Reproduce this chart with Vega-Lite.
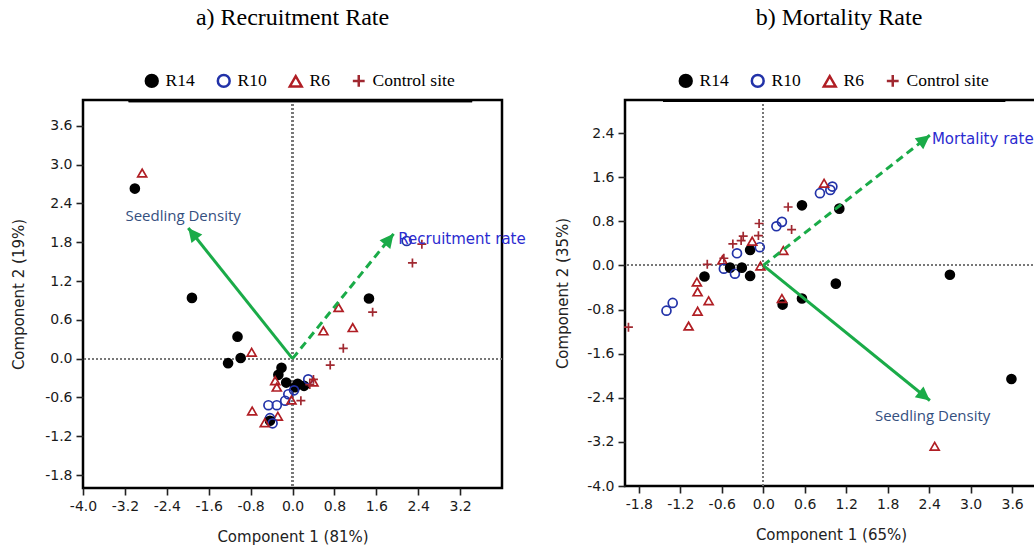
{
  "$schema": "https://vega.github.io/schema/vega-lite/v6.json",
  "padding": {"left": 10, "top": 4, "right": 0, "bottom": 0},
  "background": "white",
  "bounds": "flush",
  "spacing": 123,
  "config": {
    "view": {"stroke": "black", "strokeWidth": 2.5},
    "axis": {
      "grid": false, "domain": false, "labelOverlap": false, "labelFlush": false,
      "labelExpr": "replace(datum.label, '\u2212', '-')",
      "labelFont": "DejaVu Sans", "labelFontSize": 14, "labelColor": "#1a1a1a",
      "tickColor": "#222", "tickSize": 7, "tickWidth": 1.6, "labelPadding": 4,
      "titleFont": "DejaVu Sans", "titleFontSize": 15, "titleFontWeight": "normal", "titleColor": "#222"
    },
    "legend": {
      "labelFont": "Liberation Serif", "labelFontSize": 17.5, "labelColor": "black",
      "symbolSize": 140, "symbolStrokeWidth": 2.5, "columnPadding": 17, "labelOffset": 5
    },
    "title": {"font": "Liberation Serif", "fontSize": 24, "fontWeight": "normal", "color": "black", "anchor": "middle"}
  },
  "datasets": {
    "recruit": [
      {"site": "R6", "pc1": -2.87, "pc2": 2.87},
      {"site": "R14", "pc1": -3.01, "pc2": 2.63},
      {"site": "R14", "pc1": -1.92, "pc2": 0.94},
      {"site": "R14", "pc1": 1.46, "pc2": 0.93},
      {"site": "Control site", "pc1": 2.29, "pc2": 1.48},
      {"site": "R10", "pc1": 2.18, "pc2": 1.82},
      {"site": "Control site", "pc1": 2.47, "pc2": 1.77},
      {"site": "Control site", "pc1": 1.53, "pc2": 0.72},
      {"site": "R6", "pc1": 1.15, "pc2": 0.48},
      {"site": "R6", "pc1": 0.59, "pc2": 0.43},
      {"site": "R6", "pc1": 0.88, "pc2": 0.79},
      {"site": "Control site", "pc1": 0.97, "pc2": 0.16},
      {"site": "R14", "pc1": -1.05, "pc2": 0.34},
      {"site": "R6", "pc1": -0.78, "pc2": 0.10},
      {"site": "R14", "pc1": -0.99, "pc2": 0.01},
      {"site": "R14", "pc1": -1.23, "pc2": -0.07},
      {"site": "Control site", "pc1": 0.72, "pc2": -0.10},
      {"site": "R14", "pc1": -0.21, "pc2": -0.14},
      {"site": "R14", "pc1": -0.27, "pc2": -0.25},
      {"site": "R6", "pc1": -0.33, "pc2": -0.34},
      {"site": "R14", "pc1": -0.12, "pc2": -0.37},
      {"site": "R14", "pc1": 0.10, "pc2": -0.39},
      {"site": "R14", "pc1": 0.22, "pc2": -0.42},
      {"site": "R14", "pc1": 0.05, "pc2": -0.44},
      {"site": "R10", "pc1": 0.30, "pc2": -0.32},
      {"site": "Control site", "pc1": 0.40, "pc2": -0.32},
      {"site": "R6", "pc1": 0.40, "pc2": -0.36},
      {"site": "Control site", "pc1": 0.33, "pc2": -0.40},
      {"site": "R6", "pc1": -0.30, "pc2": -0.44},
      {"site": "R10", "pc1": 0.03, "pc2": -0.49},
      {"site": "R10", "pc1": -0.08, "pc2": -0.55},
      {"site": "R10", "pc1": -0.14, "pc2": -0.65},
      {"site": "R6", "pc1": -0.02, "pc2": -0.64},
      {"site": "Control site", "pc1": 0.16, "pc2": -0.65},
      {"site": "R10", "pc1": -0.30, "pc2": -0.72},
      {"site": "R10", "pc1": -0.46, "pc2": -0.72},
      {"site": "R6", "pc1": -0.77, "pc2": -0.81},
      {"site": "R6", "pc1": -0.28, "pc2": -0.89},
      {"site": "R10", "pc1": -0.43, "pc2": -0.92},
      {"site": "R14", "pc1": -0.43, "pc2": -0.96},
      {"site": "R10", "pc1": -0.38, "pc2": -1.00},
      {"site": "R6", "pc1": -0.53, "pc2": -0.99}
    ],
    "mortality": [
      {"site": "Control site", "pc1": -1.95, "pc2": -1.12},
      {"site": "R10", "pc1": -1.40, "pc2": -0.82},
      {"site": "R10", "pc1": -1.31, "pc2": -0.68},
      {"site": "R6", "pc1": -1.08, "pc2": -1.10},
      {"site": "R6", "pc1": -0.95, "pc2": -0.83},
      {"site": "R6", "pc1": -0.79, "pc2": -0.64},
      {"site": "R6", "pc1": -0.95, "pc2": -0.48},
      {"site": "R6", "pc1": -0.96, "pc2": -0.30},
      {"site": "R14", "pc1": -0.85, "pc2": -0.20},
      {"site": "Control site", "pc1": -0.81, "pc2": 0.02},
      {"site": "R6", "pc1": -0.59, "pc2": 0.10},
      {"site": "Control site", "pc1": -0.57, "pc2": 0.13},
      {"site": "R10", "pc1": -0.57, "pc2": -0.06},
      {"site": "R14", "pc1": -0.48, "pc2": -0.04},
      {"site": "R10", "pc1": -0.41, "pc2": -0.15},
      {"site": "R14", "pc1": -0.31, "pc2": -0.04},
      {"site": "R14", "pc1": -0.19, "pc2": -0.19},
      {"site": "R10", "pc1": -0.38, "pc2": 0.22},
      {"site": "R14", "pc1": -0.19, "pc2": 0.28},
      {"site": "R10", "pc1": -0.05, "pc2": 0.33},
      {"site": "R6", "pc1": -0.04, "pc2": -0.01},
      {"site": "Control site", "pc1": -0.44, "pc2": 0.39},
      {"site": "Control site", "pc1": -0.32, "pc2": 0.45},
      {"site": "Control site", "pc1": -0.29, "pc2": 0.53},
      {"site": "R6", "pc1": -0.16, "pc2": 0.44},
      {"site": "Control site", "pc1": -0.07, "pc2": 0.54},
      {"site": "Control site", "pc1": -0.06, "pc2": 0.76},
      {"site": "R10", "pc1": 0.19, "pc2": 0.71},
      {"site": "R10", "pc1": 0.27, "pc2": 0.79},
      {"site": "Control site", "pc1": 0.41, "pc2": 0.65},
      {"site": "R6", "pc1": 0.29, "pc2": 0.27},
      {"site": "Control site", "pc1": 0.36, "pc2": 1.06},
      {"site": "R14", "pc1": 0.56, "pc2": 1.09},
      {"site": "R14", "pc1": 1.10, "pc2": 1.03},
      {"site": "R10", "pc1": 0.82, "pc2": 1.31},
      {"site": "R10", "pc1": 0.97, "pc2": 1.37},
      {"site": "R10", "pc1": 1.00, "pc2": 1.43},
      {"site": "R6", "pc1": 0.88, "pc2": 1.49},
      {"site": "R14", "pc1": 0.28, "pc2": -0.71},
      {"site": "R6", "pc1": 0.27, "pc2": -0.60},
      {"site": "R14", "pc1": 0.56, "pc2": -0.60},
      {"site": "R14", "pc1": 1.05, "pc2": -0.33},
      {"site": "R14", "pc1": 2.70, "pc2": -0.17},
      {"site": "R14", "pc1": 3.59, "pc2": -2.06},
      {"site": "R6", "pc1": 2.48, "pc2": -3.28}
    ],
    "vecA": [
      {"variable": "Seedling Density", "kind": "solid", "pc1": 0, "pc2": 0},
      {"variable": "Seedling Density", "kind": "solid", "pc1": -1.99, "pc2": 2.02},
      {"variable": "Recruitment rate", "kind": "dashed", "pc1": 0, "pc2": 0},
      {"variable": "Recruitment rate", "kind": "dashed", "pc1": 1.93, "pc2": 1.93}
    ],
    "vecB": [
      {"variable": "Mortality rate", "kind": "dashed", "pc1": 0, "pc2": 0},
      {"variable": "Mortality rate", "kind": "dashed", "pc1": 2.41, "pc2": 2.36},
      {"variable": "Seedling Density", "kind": "solid", "pc1": 0, "pc2": 0},
      {"variable": "Seedling Density", "kind": "solid", "pc1": 2.41, "pc2": -2.45}
    ],
    "labA": [
      {"label": "Seedling Density", "pc1": -3.19, "pc2": 2.20},
      {"label": "Recruitment rate", "pc1": 2.02, "pc2": 1.85}
    ],
    "labB": [
      {"label": "Mortality rate", "pc1": 2.44, "pc2": 2.29},
      {"label": "Seedling Density", "pc1": 2.45, "pc2": -2.73}
    ]
  },
  "resolve": {
    "scale": {"x": "independent", "y": "independent", "shape": "independent", "fill": "independent", "stroke": "independent"},
    "legend": {"shape": "independent", "fill": "independent", "stroke": "independent"},
    "axis": {"x": "independent", "y": "independent"}
  },
  "hconcat": [
    {
      "width": 419, "height": 388,
      "title": {"text": "a) Recruitment Rate", "offset": 42},
      "layer": [
        {
          "data": {"name": "recruit"},
          "mark": {"type": "rule", "color": "#777", "strokeWidth": 1.2, "strokeDash": [2, 2]},
          "encoding": {"x": {"datum": 0, "type": "quantitative"}}
        },
        {
          "data": {"name": "recruit"},
          "mark": {"type": "rule", "color": "#777", "strokeWidth": 1.2, "strokeDash": [2, 2]},
          "encoding": {"y": {"datum": 0, "type": "quantitative"}}
        },
        {
          "data": {"name": "recruit"},
          "mark": {"type": "point", "size": 80, "strokeWidth": 1.7, "opacity": 1},
          "encoding": {
            "x": {"field": "pc1", "type": "quantitative", "scale": {"domain": [-4, 4], "nice": false, "zero": false},
                  "axis": {"title": "Component 1 (81%)", "values": [-4.0, -3.2, -2.4, -1.6, -0.8, 0.0, 0.8, 1.6, 2.4, 3.2], "format": ".1f", "titlePadding": 16}},
            "y": {"field": "pc2", "type": "quantitative", "scale": {"domain": [-2, 4], "nice": false, "zero": false},
                  "axis": {"title": "Component 2 (19%)", "values": [-1.8, -1.2, -0.6, 0.0, 0.6, 1.2, 1.8, 2.4, 3.0, 3.6], "format": ".1f", "titlePadding": 18}},
            "shape": {"field": "site", "type": "nominal",
                      "scale": {"domain": ["R14", "R10", "R6", "Control site"], "range": ["circle", "circle", "triangle-up", "M-1,0H1M0,-1V1"]},
                      "legend": {"orient": "none", "legendX": 60, "legendY": -28, "direction": "horizontal", "columns": 4, "title": null}},
            "fill": {"field": "site", "type": "nominal",
                     "scale": {"domain": ["R14", "R10", "R6", "Control site"], "range": ["black", "transparent", "transparent", "transparent"]},
                     "legend": {"orient": "none", "legendX": 60, "legendY": -28, "direction": "horizontal", "columns": 4, "title": null}},
            "stroke": {"field": "site", "type": "nominal",
                       "scale": {"domain": ["R14", "R10", "R6", "Control site"], "range": ["black", "#2232a8", "#b01e24", "#a02830"]},
                       "legend": {"orient": "none", "legendX": 60, "legendY": -28, "direction": "horizontal", "columns": 4, "title": null}}
          }
        },
        {
          "data": {"name": "vecA"},
          "transform": [{"filter": "datum.kind === 'solid'"}],
          "mark": {"type": "line", "color": "#1aab48", "strokeWidth": 3},
          "encoding": {"x": {"field": "pc1", "type": "quantitative"}, "y": {"field": "pc2", "type": "quantitative"}, "detail": {"field": "variable"}}
        },
        {
          "data": {"name": "vecA"},
          "transform": [{"filter": "datum.kind === 'dashed'"}],
          "mark": {"type": "line", "color": "#1aab48", "strokeWidth": 3, "strokeDash": [8, 5]},
          "encoding": {"x": {"field": "pc1", "type": "quantitative"}, "y": {"field": "pc2", "type": "quantitative"}, "detail": {"field": "variable"}}
        },
        {
          "data": {"name": "vecA"},
          "transform": [{"filter": "datum.variable === 'Seedling Density' && datum.pc1 !== 0"}],
          "mark": {"type": "point", "shape": "M0,0L-0.5,1L0.5,1Z", "size": 760, "angle": 321.5, "filled": true, "color": "#1aab48", "opacity": 1},
          "encoding": {"x": {"field": "pc1", "type": "quantitative"}, "y": {"field": "pc2", "type": "quantitative"}}
        },
        {
          "data": {"name": "vecA"},
          "transform": [{"filter": "datum.variable === 'Recruitment rate' && datum.pc1 !== 0"}],
          "mark": {"type": "point", "shape": "M0,0L-0.5,1L0.5,1Z", "size": 760, "angle": 38.8, "filled": true, "color": "#1aab48", "opacity": 1},
          "encoding": {"x": {"field": "pc1", "type": "quantitative"}, "y": {"field": "pc2", "type": "quantitative"}}
        },
        {
          "data": {"name": "labA"},
          "transform": [{"filter": "datum.label === 'Seedling Density'"}],
          "mark": {"type": "text", "align": "left", "baseline": "middle", "font": "Open Sans", "fontSize": 15, "color": "#35507f"},
          "encoding": {"x": {"field": "pc1", "type": "quantitative"}, "y": {"field": "pc2", "type": "quantitative"}, "text": {"field": "label"}}
        },
        {
          "data": {"name": "labA"},
          "transform": [{"filter": "datum.label === 'Recruitment rate'"}],
          "mark": {"type": "text", "align": "left", "baseline": "middle", "font": "DejaVu Sans", "fontSize": 15, "color": "#2b2bd0"},
          "encoding": {"x": {"field": "pc1", "type": "quantitative"}, "y": {"field": "pc2", "type": "quantitative"}, "text": {"field": "label"}}
        },
        {
          "data": {"name": "labA"},
          "mark": {"type": "rule", "color": "black", "strokeWidth": 3},
          "encoding": {"x": {"datum": -3.13, "type": "quantitative"}, "x2": {"datum": 3.43}, "y": {"datum": 3.99, "type": "quantitative"}}
        }
      ]
    },
    {
      "width": 412, "height": 386,
      "title": {"text": "b) Mortality Rate", "offset": 42, "dx": 8},
      "layer": [
        {
          "data": {"name": "mortality"},
          "mark": {"type": "rule", "color": "#777", "strokeWidth": 1.2, "strokeDash": [2, 2]},
          "encoding": {"x": {"datum": 0, "type": "quantitative"}}
        },
        {
          "data": {"name": "mortality"},
          "mark": {"type": "rule", "color": "#777", "strokeWidth": 1.2, "strokeDash": [2, 2]},
          "encoding": {"y": {"datum": 0, "type": "quantitative"}}
        },
        {
          "data": {"name": "mortality"},
          "mark": {"type": "point", "size": 80, "strokeWidth": 1.7, "opacity": 1},
          "encoding": {
            "x": {"field": "pc1", "type": "quantitative", "scale": {"domain": [-2, 3.96], "nice": false, "zero": false},
                  "axis": {"title": "Component 1 (65%)", "values": [-1.8, -1.2, -0.6, 0.0, 0.6, 1.2, 1.8, 2.4, 3.0, 3.6], "format": ".1f", "titlePadding": 16}},
            "y": {"field": "pc2", "type": "quantitative", "scale": {"domain": [-4, 3], "nice": false, "zero": false},
                  "axis": {"title": "Component 2 (35%)", "values": [-4.0, -3.2, -2.4, -1.6, -0.8, 0.0, 0.8, 1.6, 2.4], "format": ".1f", "titlePadding": 16}},
            "shape": {"field": "site", "type": "nominal",
                      "scale": {"domain": ["R14", "R10", "R6", "Control site"], "range": ["circle", "circle", "triangle-up", "M-1,0H1M0,-1V1"]},
                      "legend": {"orient": "none", "legendX": 52, "legendY": -28, "direction": "horizontal", "columns": 4, "title": null}},
            "fill": {"field": "site", "type": "nominal",
                     "scale": {"domain": ["R14", "R10", "R6", "Control site"], "range": ["black", "transparent", "transparent", "transparent"]},
                     "legend": {"orient": "none", "legendX": 52, "legendY": -28, "direction": "horizontal", "columns": 4, "title": null}},
            "stroke": {"field": "site", "type": "nominal",
                       "scale": {"domain": ["R14", "R10", "R6", "Control site"], "range": ["black", "#2232a8", "#b01e24", "#a02830"]},
                       "legend": {"orient": "none", "legendX": 52, "legendY": -28, "direction": "horizontal", "columns": 4, "title": null}}
          }
        },
        {
          "data": {"name": "vecB"},
          "transform": [{"filter": "datum.kind === 'solid'"}],
          "mark": {"type": "line", "color": "#1aab48", "strokeWidth": 3},
          "encoding": {"x": {"field": "pc1", "type": "quantitative"}, "y": {"field": "pc2", "type": "quantitative"}, "detail": {"field": "variable"}}
        },
        {
          "data": {"name": "vecB"},
          "transform": [{"filter": "datum.kind === 'dashed'"}],
          "mark": {"type": "line", "color": "#1aab48", "strokeWidth": 3, "strokeDash": [8, 5]},
          "encoding": {"x": {"field": "pc1", "type": "quantitative"}, "y": {"field": "pc2", "type": "quantitative"}, "detail": {"field": "variable"}}
        },
        {
          "data": {"name": "vecB"},
          "transform": [{"filter": "datum.variable === 'Mortality rate' && datum.pc1 !== 0"}],
          "mark": {"type": "point", "shape": "M0,0L-0.5,1L0.5,1Z", "size": 760, "angle": 52, "filled": true, "color": "#1aab48", "opacity": 1},
          "encoding": {"x": {"field": "pc1", "type": "quantitative"}, "y": {"field": "pc2", "type": "quantitative"}}
        },
        {
          "data": {"name": "vecB"},
          "transform": [{"filter": "datum.variable === 'Seedling Density' && datum.pc1 !== 0"}],
          "mark": {"type": "point", "shape": "M0,0L-0.5,1L0.5,1Z", "size": 760, "angle": 129, "filled": true, "color": "#1aab48", "opacity": 1},
          "encoding": {"x": {"field": "pc1", "type": "quantitative"}, "y": {"field": "pc2", "type": "quantitative"}}
        },
        {
          "data": {"name": "labB"},
          "transform": [{"filter": "datum.label === 'Seedling Density'"}],
          "mark": {"type": "text", "align": "center", "baseline": "middle", "font": "Open Sans", "fontSize": 15, "color": "#35507f"},
          "encoding": {"x": {"field": "pc1", "type": "quantitative"}, "y": {"field": "pc2", "type": "quantitative"}, "text": {"field": "label"}}
        },
        {
          "data": {"name": "labB"},
          "transform": [{"filter": "datum.label === 'Mortality rate'"}],
          "mark": {"type": "text", "align": "left", "baseline": "middle", "font": "DejaVu Sans", "fontSize": 15, "color": "#2b2bd0"},
          "encoding": {"x": {"field": "pc1", "type": "quantitative"}, "y": {"field": "pc2", "type": "quantitative"}, "text": {"field": "label"}}
        },
        {
          "data": {"name": "labB"},
          "mark": {"type": "rule", "color": "black", "strokeWidth": 3},
          "encoding": {"x": {"datum": -1.45, "type": "quantitative"}, "x2": {"datum": 3.5}, "y": {"datum": 2.99, "type": "quantitative"}}
        }
      ]
    }
  ]
}
